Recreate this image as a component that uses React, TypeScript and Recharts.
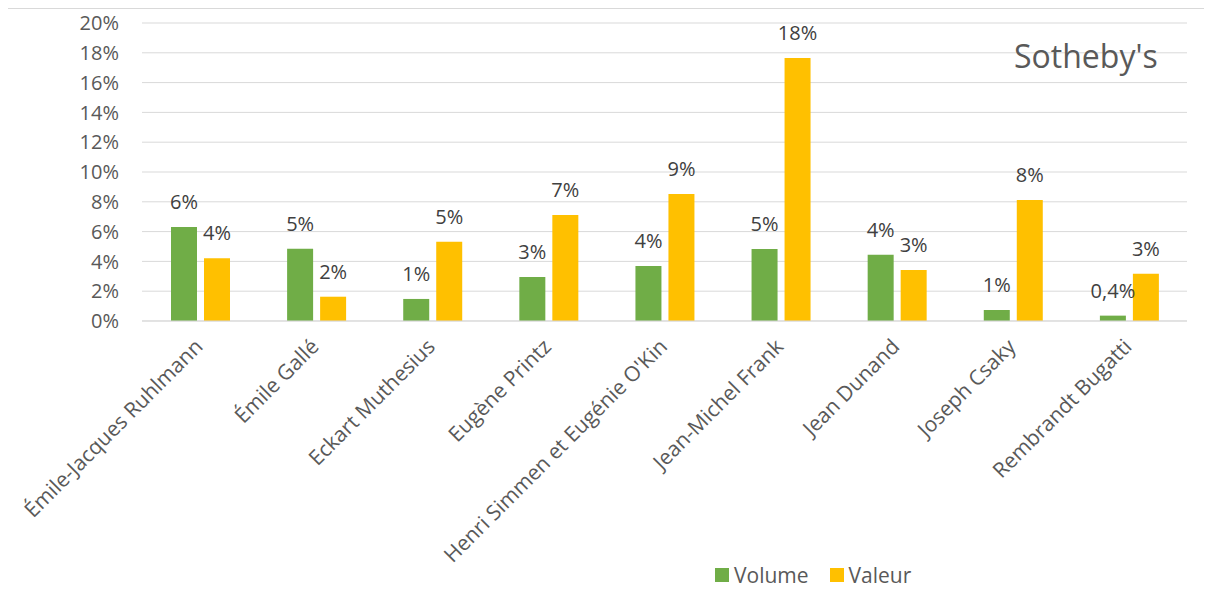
import React from "react";
import { BarChart, Bar, XAxis, YAxis, CartesianGrid, LabelList, Legend } from "recharts";

const artists = [
  "Émile-Jacques Ruhlmann",
  "Émile Gallé",
  "Eckart Muthesius",
  "Eugène Printz",
  "Henri Simmen et Eugénie O'Kin",
  "Jean-Michel Frank",
  "Jean Dunand",
  "Joseph Csaky",
  "Rembrandt Bugatti",
];
const volume = [6.31, 4.85, 1.48, 2.95, 3.69, 4.84, 4.45, 0.74, 0.36];
const valeur = [4.21, 1.63, 5.32, 7.11, 8.52, 17.65, 3.42, 8.12, 3.17];
const volumeLabels = ["6%", "5%", "1%", "3%", "4%", "5%", "4%", "1%", "0,4%"];
const valeurLabels = ["4%", "2%", "5%", "7%", "9%", "18%", "3%", "8%", "3%"];
const yTicks = [0, 2, 4, 6, 8, 10, 12, 14, 16, 18, 20];

const GREEN = "#70AD47";
const YELLOW = "#FFC000";
const FONT = "'Open Sans', sans-serif";

const data = artists.map((name, i) => ({
  name,
  volume: volume[i],
  valeur: valeur[i],
  volumeLabel: volumeLabels[i],
  valeurLabel: valeurLabels[i],
}));

function ArtistTick({ x, y, payload }: any) {
  return (
    <g transform={`translate(${x + 4},${y + 27})`}>
      <text transform="rotate(-45)" textAnchor="end" fill="#595959" fontSize={21} fontFamily={FONT}>
        {payload.value}
      </text>
    </g>
  );
}

function LegendBox() {
  const items = [
    { label: "Volume", color: GREEN },
    { label: "Valeur", color: YELLOW },
  ];
  return (
    <div style={{ display: "flex", alignItems: "center", height: 20, fontFamily: FONT, fontSize: 21, color: "#595959" }}>
      {items.map((it, i) => (
        <div key={it.label} style={{ display: "flex", alignItems: "center", marginLeft: i ? 21 : 0 }}>
          <span style={{ display: "inline-block", width: 14, height: 14, background: it.color, marginRight: 5 }} />
          <span style={{ lineHeight: "20px" }}>{it.label}</span>
        </div>
      ))}
    </div>
  );
}

export default function App() {
  return (
    <div
      style={{
        position: "relative",
        width: 1204,
        height: 586,
        marginLeft: -1,
        boxSizing: "border-box",
        borderTop: "1px solid #d9d9d9",
        borderLeft: "1px solid #d9d9d9",
        background: "#fff",
      }}
    >
      <BarChart
        width={1203}
        height={585}
        data={data}
        margin={{ top: 14, right: 24, left: 0, bottom: 13 }}
        barSize={26}
        barGap={7}
      >
        <CartesianGrid vertical={false} stroke="#d9d9d9" strokeWidth={1} />
        <XAxis
          dataKey="name"
          interval={0}
          height={260}
          tickLine={false}
          tickSize={0}
          tickMargin={0}
          axisLine={{ stroke: "#d9d9d9" }}
          tick={<ArtistTick />}
        />
        <YAxis
          width={134}
          domain={[0, 20]}
          ticks={yTicks}
          interval={0}
          axisLine={false}
          tickLine={false}
          tickSize={0}
          tickMargin={23}
          tickFormatter={(v: number) => `${v}%`}
          tick={{ fill: "#595959", fontSize: 20, fontFamily: FONT }}
        />
        <Legend
          verticalAlign="middle"
          layout="horizontal"
          content={<LegendBox />}
          wrapperStyle={{ left: 707, top: 556, width: "auto", height: 20 }}
        />
        <Bar dataKey="volume" name="Volume" fill={GREEN} isAnimationActive={false}>
          <LabelList dataKey="volumeLabel" position="top" offset={18} fill="#404040" fontSize={20} fontFamily={FONT} />
        </Bar>
        <Bar dataKey="valeur" name="Valeur" fill={YELLOW} isAnimationActive={false}>
          <LabelList dataKey="valeurLabel" position="top" offset={18} fill="#404040" fontSize={20} fontFamily={FONT} />
        </Bar>
      </BarChart>
      <div
        style={{
          position: "absolute",
          left: 1006,
          top: 31,
          fontFamily: FONT,
          fontSize: 32,
          lineHeight: "32px",
          color: "#595959",
          whiteSpace: "nowrap",
        }}
      >
        Sotheby's
      </div>
    </div>
  );
}
